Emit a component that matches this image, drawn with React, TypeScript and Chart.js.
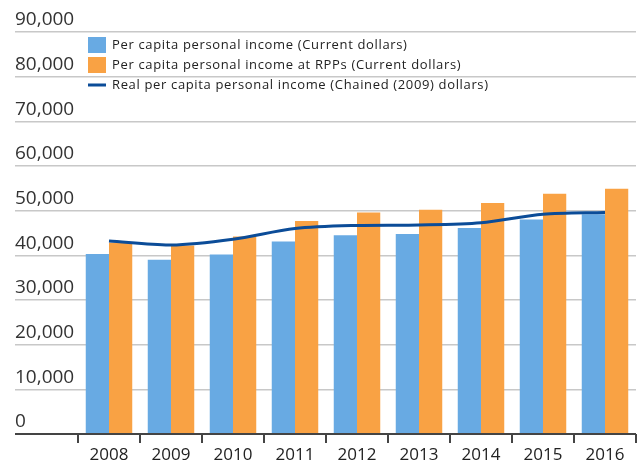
import React, { useEffect, useRef } from "react";
import { Chart, registerables } from "chart.js";

Chart.register(...registerables);

const years = ["2008", "2009", "2010", "2011", "2012", "2013", "2014", "2015", "2016"];
const currentDollars = [40300, 39000, 40200, 43100, 44500, 44800, 46100, 48000, 49200];
const rppDollars = [42800, 42200, 44200, 47700, 49600, 50200, 51700, 53800, 54900];
const realChained = [43200, 42300, 43600, 46000, 46700, 46800, 47300, 49200, 49600];

const legendLabels = [
  "Per capita personal income (Current dollars)",
  "Per capita personal income at RPPs (Current dollars)",
  "Real per capita personal income (Chained (2009) dollars)",
];

const BLUE = "#68aae3";
const ORANGE = "#f9a244";
const NAVY = "#0b4c98";
const FONT = "'Open Sans', sans-serif";

const legendPlugin = {
  id: "insideLegend",
  afterDraw(chart: any) {
    const ctx = chart.ctx;
    ctx.save();
    ctx.font = `13px ${FONT}`;
    try {
      ctx.letterSpacing = "0.65px";
    } catch (e) {}
    ctx.textBaseline = "middle";
    ctx.textAlign = "left";
    const x = 88;
    const rows = [45, 65, 85];
    ctx.fillStyle = BLUE;
    ctx.fillRect(x, rows[0] - 8, 18, 16);
    ctx.fillStyle = ORANGE;
    ctx.fillRect(x, rows[1] - 8, 18, 16);
    ctx.strokeStyle = NAVY;
    ctx.lineWidth = 3;
    ctx.beginPath();
    ctx.moveTo(x, rows[2]);
    ctx.lineTo(x + 18, rows[2]);
    ctx.stroke();
    ctx.fillStyle = "#222";
    legendLabels.forEach((t, i) => ctx.fillText(t, x + 24, rows[i] + 0.5));
    ctx.restore();
  },
};

export default function App() {
  const ref = useRef<HTMLCanvasElement | null>(null);
  useEffect(() => {
    if (!ref.current) return;
    const chart = new Chart(ref.current, {
      type: "bar",
      data: {
        labels: years,
        datasets: [
          {
            type: "line",
            label: legendLabels[2],
            data: realChained,
            borderColor: NAVY,
            borderWidth: 3,
            pointRadius: 0,
            tension: 0.3,
            fill: false,
            order: 0,
          } as any,
          {
            label: legendLabels[0],
            data: currentDollars,
            backgroundColor: BLUE,
            barPercentage: 1,
            categoryPercentage: 0.75,
            order: 1,
          },
          {
            label: legendLabels[1],
            data: rppDollars,
            backgroundColor: ORANGE,
            barPercentage: 1,
            categoryPercentage: 0.75,
            order: 1,
          },
        ],
      },
      options: {
        responsive: true,
        maintainAspectRatio: false,
        animation: false,
        layout: { padding: { left: 15, right: 2, top: 32, bottom: 0 } },
        plugins: {
          legend: { display: false },
          tooltip: { enabled: false },
        },
        scales: {
          x: {
            grid: {
              offset: true,
              drawOnChartArea: false,
              drawTicks: true,
              tickLength: 9,
              color: "#444",
              lineWidth: 2,
            },
            border: { display: false },
            ticks: {
              color: "#222",
              font: { family: FONT, size: 17 },
              padding: 2,
            },
            afterFit: (s: any) => {
              s.height = 33;
            },
          },
          y: {
            min: 0,
            max: 90000,
            grid: {
              drawTicks: true,
              tickLength: 63,
              color: (c: any) => (c.tick && c.tick.value === 0 ? "#444" : "#c8c8c8"),
              lineWidth: (c: any) => (c.tick && c.tick.value === 0 ? 2 : 1.5),
            },
            border: { display: false },
            ticks: {
              stepSize: 10000,
              crossAlign: "far",
              labelOffset: -12,
              color: "#333",
              font: { family: FONT, size: 19 },
              callback: (v: any) => Number(v).toLocaleString("en-US"),
            },
            afterFit: (s: any) => {
              s.width = 63;
            },
          },
        },
      } as any,
      plugins: [legendPlugin],
    });
    return () => chart.destroy();
  }, []);
  return (
    <div style={{ position: "fixed", left: 0, top: 0, width: 638, height: 467 }}>
      <canvas ref={ref} />
    </div>
  );
}
